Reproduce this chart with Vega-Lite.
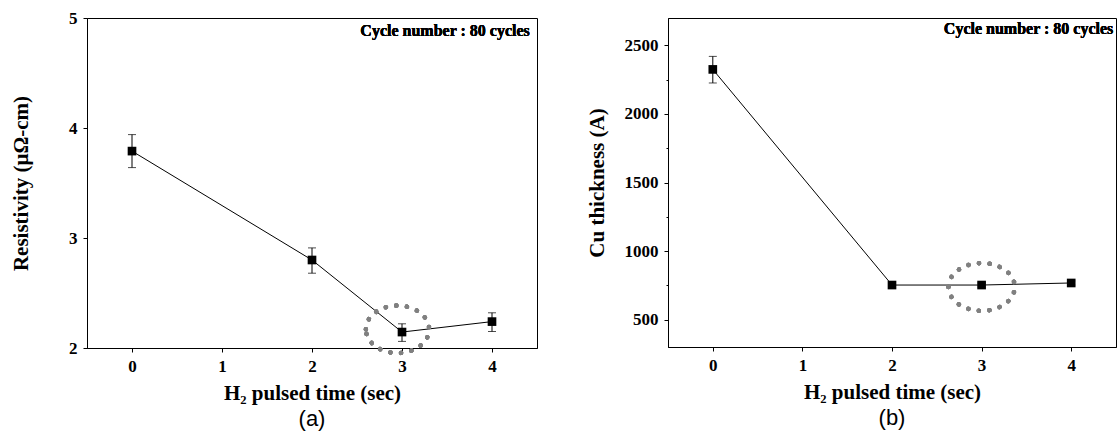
{
  "$schema": "https://vega.github.io/schema/vega-lite/v6.json",
  "background": "white",
  "padding": {"left": 10, "top": 8, "right": 2, "bottom": 2},
  "spacing": 47,
  "datasets": {
    "a": [
      {"t": 0, "r": 3.79, "lo": 3.64, "hi": 3.94},
      {"t": 2, "r": 2.80, "lo": 2.68, "hi": 2.91},
      {"t": 3, "r": 2.145, "lo": 2.06, "hi": 2.22},
      {"t": 4, "r": 2.24, "lo": 2.15, "hi": 2.32}
    ],
    "b": [
      {"t": 0, "c": 2325, "lo": 2226, "hi": 2420},
      {"t": 2, "c": 752, "lo": 737, "hi": 767},
      {"t": 3, "c": 752, "lo": 737, "hi": 767},
      {"t": 4, "c": 767, "lo": 752, "hi": 782}
    ]
  },
  "hconcat": [
    {
      "width": 450,
      "height": 330,
      "title": {"text": "(a)", "orient": "bottom", "font": "Liberation Sans", "fontSize": 22, "fontWeight": "normal", "color": "black", "offset": 6},
      "data": {"name": "a"},
      "layer": [
        {
          "mark": {"type": "line", "color": "black", "strokeWidth": 1},
          "encoding": {
            "x": {"field": "t", "type": "quantitative", "scale": {"domain": [-0.5, 4.5], "nice": false, "zero": false},
                  "axis": {"title": "H₂ pulsed time (sec)", "format": "d", "values": [0, 0.5, 1, 1.5, 2, 2.5, 3, 3.5, 4], "labelExpr": "datum.value % 1 === 0 ? datum.label : ''", "tickSize": {"condition": {"test": "datum.value % 1 !== 0", "value": 2}, "value": 4}}},
            "y": {"field": "r", "type": "quantitative", "scale": {"domain": [2, 5], "nice": false, "zero": false},
                  "axis": {"title": "Resistivity (μΩ-cm)", "titlePadding": 37, "format": "d", "values": [2, 2.5, 3, 3.5, 4, 4.5, 5], "labelExpr": "datum.value % 1 === 0 ? datum.label : ''", "tickSize": {"condition": {"test": "datum.value % 1 !== 0", "value": 2}, "value": 4}}}
          }
        },
        {
          "mark": {"type": "errorbar", "color": "black", "ticks": {"size": 8, "color": "black"}, "rule": {"color": "black", "strokeWidth": 1}},
          "encoding": {
            "x": {"field": "t", "type": "quantitative", "title": "H₂ pulsed time (sec)"},
            "y": {"field": "lo", "type": "quantitative", "title": "Resistivity (μΩ-cm)"},
            "y2": {"field": "hi"}
          }
        },
        {
          "mark": {"type": "point", "shape": "square", "filled": true, "color": "black", "size": 75, "opacity": 1},
          "encoding": {
            "x": {"field": "t", "type": "quantitative", "title": "H₂ pulsed time (sec)"},
            "y": {"field": "r", "type": "quantitative", "title": "Resistivity (μΩ-cm)"}
          }
        },
        {
          "mark": {"type": "point", "shape": "M -1 0 A 1 0.75 0 1 1 1 0 A 1 0.75 0 1 1 -1 0 Z", "size": 4000, "filled": false, "stroke": "#808080", "strokeWidth": 4.5, "strokeDash": [0.1, 10.5], "strokeCap": "round", "opacity": 1},
          "encoding": {
            "x": {"datum": 2.95, "type": "quantitative"},
            "y": {"datum": 2.17, "type": "quantitative"}
          }
        },
        {
          "mark": {"type": "text", "text": "Cycle number : 80 cycles", "align": "right", "baseline": "middle", "font": "Liberation Serif", "fontWeight": "bold", "fontSize": 16, "color": "black"},
          "encoding": {
            "x": {"datum": 4.42, "type": "quantitative"},
            "y": {"datum": 4.88, "type": "quantitative"}
          }
        }
      ]
    },
    {
      "width": 448,
      "height": 329,
      "title": {"text": "(b)", "orient": "bottom", "font": "Liberation Sans", "fontSize": 22, "fontWeight": "normal", "color": "black", "offset": 6},
      "data": {"name": "b"},
      "layer": [
        {
          "mark": {"type": "line", "color": "black", "strokeWidth": 1},
          "encoding": {
            "x": {"field": "t", "type": "quantitative", "scale": {"domain": [-0.5, 4.5], "nice": false, "zero": false},
                  "axis": {"title": "H₂ pulsed time (sec)", "format": "d", "values": [0, 0.5, 1, 1.5, 2, 2.5, 3, 3.5, 4], "labelExpr": "datum.value % 1 === 0 ? datum.label : ''", "tickSize": {"condition": {"test": "datum.value % 1 !== 0", "value": 2}, "value": 4}}},
            "y": {"field": "c", "type": "quantitative", "scale": {"domain": [300, 2700], "nice": false, "zero": false},
                  "axis": {"title": "Cu thickness (A)", "titlePadding": 17, "format": "d", "values": [500, 750, 1000, 1250, 1500, 1750, 2000, 2250, 2500], "labelExpr": "datum.value % 500 === 0 ? datum.label : ''", "tickSize": {"condition": {"test": "datum.value % 500 !== 0", "value": 2}, "value": 4}}}
          }
        },
        {
          "mark": {"type": "errorbar", "color": "black", "ticks": {"size": 8, "color": "black"}, "rule": {"color": "black", "strokeWidth": 1}},
          "encoding": {
            "x": {"field": "t", "type": "quantitative", "title": "H₂ pulsed time (sec)"},
            "y": {"field": "lo", "type": "quantitative", "title": "Cu thickness (A)"},
            "y2": {"field": "hi"}
          }
        },
        {
          "mark": {"type": "point", "shape": "square", "filled": true, "color": "black", "size": 75, "opacity": 1},
          "encoding": {
            "x": {"field": "t", "type": "quantitative", "title": "H₂ pulsed time (sec)"},
            "y": {"field": "c", "type": "quantitative", "title": "Cu thickness (A)"}
          }
        },
        {
          "mark": {"type": "point", "shape": "M -1 0 A 1 0.72 0 1 1 1 0 A 1 0.72 0 1 1 -1 0 Z", "size": 4400, "filled": false, "stroke": "#808080", "strokeWidth": 4.5, "strokeDash": [0.1, 10.5], "strokeCap": "round", "opacity": 1},
          "encoding": {
            "x": {"datum": 3, "type": "quantitative"},
            "y": {"datum": 738, "type": "quantitative"}
          }
        },
        {
          "mark": {"type": "text", "text": "Cycle number : 80 cycles", "align": "right", "baseline": "middle", "font": "Liberation Serif", "fontWeight": "bold", "fontSize": 16, "color": "black"},
          "encoding": {
            "x": {"datum": 4.47, "type": "quantitative"},
            "y": {"datum": 2620, "type": "quantitative"}
          }
        }
      ]
    }
  ],
  "config": {
    "view": {"stroke": "black", "strokeWidth": 1},
    "axis": {
      "grid": false,
      "domainColor": "black",
      "tickColor": "black",
      "labelColor": "black",
      "titleColor": "black",
      "labelFont": "Liberation Serif",
      "labelFontWeight": "bold",
      "labelFontSize": 17,
      "titleFont": "Liberation Serif",
      "titleFontWeight": "bold",
      "titleFontSize": 21,
      "labelPadding": 6,
      "tickWidth": 1,
      "domainWidth": 1
    },
    "axisX": {"titlePadding": 8},
    "axisY": {"titlePadding": 30}
  }
}
